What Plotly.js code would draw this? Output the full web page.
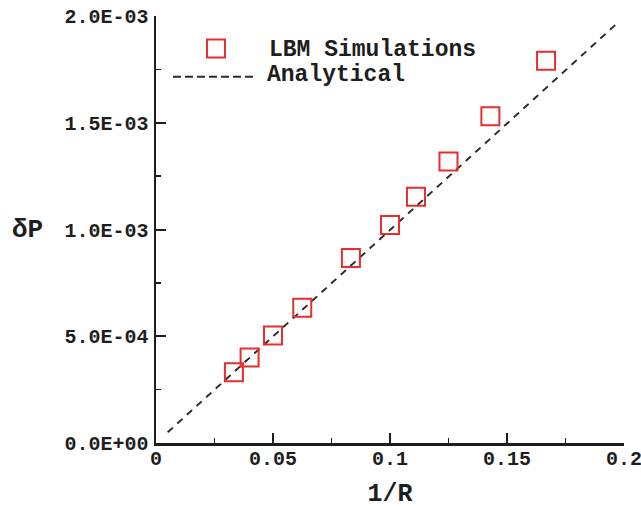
<!DOCTYPE html>
<html><head><meta charset="utf-8">
<script src="https://cdn.plot.ly/plotly-3.0.1.min.js"></script>
<style>html,body{margin:0;padding:0;background:#fff;}</style>
</head><body>
<div id="chart" style="width:641px;height:509px;"></div>
<script>
// LBM simulation data: x = 1/R, y = delta P
const lbmX = [0.0333, 0.04, 0.05, 0.0625, 0.0833, 0.1, 0.1111, 0.125, 0.1429, 0.1667];
const lbmY = [3.31e-4, 4.00e-4, 5.03e-4, 6.34e-4, 8.67e-4, 1.021e-3, 1.154e-3, 1.319e-3, 1.530e-3, 1.791e-3];
// Analytical line end points
const anaX = [0.005, 0.198];
const anaY = [5.0e-5, 1.975e-3];
// Tick labels
const xTickVals = [0, 0.05, 0.1, 0.15, 0.2];
const xTickText = ["0", "0.05", "0.1", "0.15", "0.2"];
const yTickVals = [0, 5e-4, 1e-3, 1.5e-3, 2e-3];
const yTickText = ["0.0E+00", "5.0E-04", "1.0E-03", "1.5E-03", "2.0E-03"];
const seriesNames = ["LBM Simulations", "Analytical"];

const FONT = "Liberation Mono, Courier New, monospace";
const RED = "rgb(232,45,45)";
const INK = "#1e1e1e";

const traces = [
  {x: anaX, y: anaY, mode: "lines", name: seriesNames[1], showlegend: false,
   line: {color: "#2a2a2a", width: 2, dash: "7px,6px"}},
  {x: lbmX, y: lbmY, mode: "markers", name: seriesNames[0], showlegend: false,
   marker: {symbol: "square-open", size: 18, color: RED, line: {width: 2, color: RED}}}
];

const axisCommon = {
  showgrid: false, zeroline: false, showline: true, linecolor: INK, linewidth: 2.5,
  ticks: "inside", ticklen: 10, tickwidth: 2, tickcolor: INK, tickmode: "array",
  tickfont: {family: FONT, size: 20, color: INK, weight: "bold"}, mirror: false,
  ticklabeloverflow: "allow"
};

const layout = {
  width: 641, height: 509,
  margin: {l: 156, r: 17, t: 16, b: 66},
  paper_bgcolor: "#fff", plot_bgcolor: "#fff",
  showlegend: false,
  xaxis: Object.assign({}, axisCommon, {
    range: [0, 0.20001], tickvals: xTickVals, ticktext: xTickText,
    minor: {tickmode: "linear", tick0: 0, dtick: 0.025, ticks: "inside", ticklen: 5, tickwidth: 1.5, tickcolor: INK},
    title: {text: "1/R", font: {family: FONT, size: 25, color: INK, weight: "bold"}, standoff: 25},
    ticklabelstandoff: -5
  }),
  yaxis: Object.assign({}, axisCommon, {
    range: [0, 0.0020001], tickvals: yTickVals, ticktext: yTickText,
    minor: {tickmode: "linear", tick0: 0, dtick: 0.00025, ticks: "inside", ticklen: 5, tickwidth: 1.5, tickcolor: INK},
    ticklabelstandoff: 1
  }),
  annotations: [
    {xref: "paper", yref: "paper", x: -0.2756, y: 0.5, xanchor: "center", yanchor: "middle",
     text: "δP", showarrow: false, font: {family: FONT, size: 26, color: INK, weight: "bold"}},
    {xref: "paper", yref: "paper", x: 0.237, y: 0.92, xanchor: "left", yanchor: "middle",
     text: seriesNames[0], showarrow: false, font: {family: FONT, size: 23, color: INK, weight: "bold"}},
    {xref: "paper", yref: "paper", x: 0.233, y: 0.862, xanchor: "left", yanchor: "middle",
     text: seriesNames[1], showarrow: false, font: {family: FONT, size: 23, color: INK, weight: "bold"}}
  ],
  shapes: [
    {type: "rect", xref: "paper", yref: "paper", x0: 0.109, x1: 0.1474, y0: 0.9028, y1: 0.945,
     line: {color: RED, width: 2}, fillcolor: "rgba(0,0,0,0)"},
    {type: "line", xref: "paper", yref: "paper", x0: 0.0363, x1: 0.2073, y0: 0.858, y1: 0.858,
     line: {color: "#2a2a2a", width: 2, dash: "8px,4px"}}
  ]
};

Plotly.newPlot("chart", traces, layout, {displayModeBar: false, staticPlot: true});
</script>
</body></html>
